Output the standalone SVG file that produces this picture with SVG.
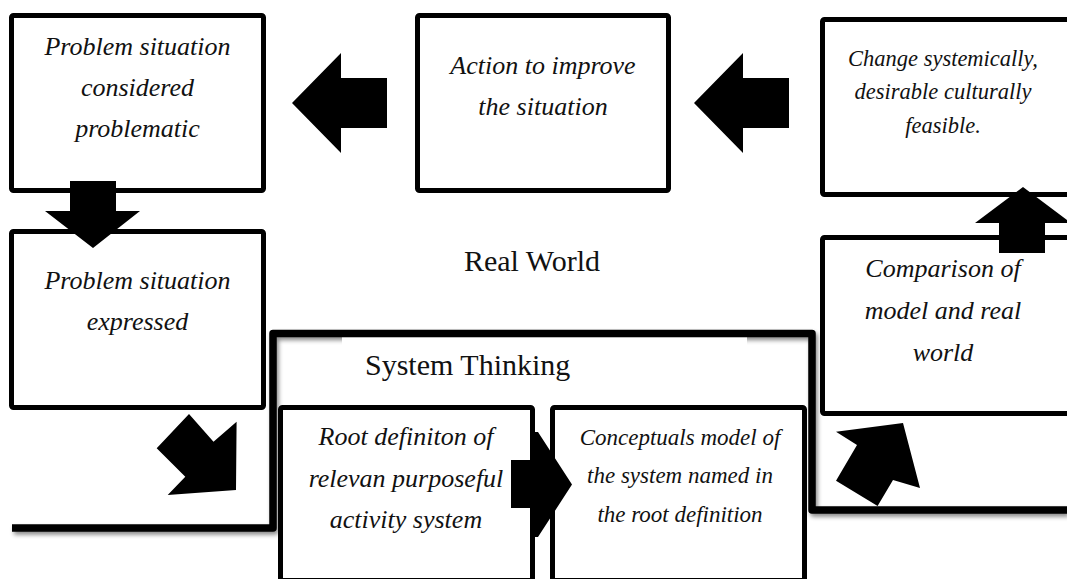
<svg xmlns="http://www.w3.org/2000/svg" width="1067" height="579" viewBox="0 0 1067 579">
  <defs>
    <style>
      .box { fill: #ffffff; stroke: #000000; stroke-width: 5; }
      .arrow { fill: #000000; stroke: none; }
      .frame { fill: none; stroke: #000000; stroke-width: 7.5; stroke-linejoin: round; }
      .it { font-family: "Liberation Serif", "Times New Roman", serif; font-style: italic; fill: #111111; text-anchor: middle; }
      .f26 { font-size: 26px; }
      .f23 { font-size: 23px; }
      .f22 { font-size: 22.5px; }
      .lbl { font-family: "Liberation Serif", "Times New Roman", serif; font-size: 30px; fill: #111111; }
    </style>
    <filter id="shadow" x="-5%" y="-20%" width="110%" height="140%">
      <feDropShadow dx="2" dy="3" stdDeviation="2" flood-color="#000000" flood-opacity="0.45"/>
    </filter>
  </defs>

  <rect x="0" y="0" width="1067" height="579" fill="#ffffff"/>

  <g id="system-thinking-boundary">
    <path class="frame" filter="url(#shadow)" d="M 12 528 H 273 V 333.5 H 812 V 510 H 1067"/>
    <rect x="342" y="337.5" width="405" height="62" fill="#ffffff"/>
    <text class="lbl" x="365" y="375">System Thinking</text>
  </g>

  <g id="real-world-label">
    <text class="lbl" x="532" y="271" text-anchor="middle">Real World</text>
  </g>

  <g id="node-problem-situation">
    <rect class="box" x="11.5" y="15.5" width="252" height="175" rx="2"/>
    <text class="it f26" x="137.5" y="55">Problem situation</text>
    <text class="it f26" x="137.5" y="96">considered</text>
    <text class="it f26" x="137.5" y="137">problematic</text>
  </g>

  <g id="node-problem-expressed">
    <rect class="box" x="11.5" y="231.5" width="252" height="176" rx="2"/>
    <text class="it f26" x="137.5" y="289">Problem situation</text>
    <text class="it f26" x="137.5" y="330">expressed</text>
  </g>

  <g id="node-action">
    <rect class="box" x="417.5" y="15.5" width="251" height="175" rx="2"/>
    <text class="it f26" x="543" y="74">Action to improve</text>
    <text class="it f26" x="543" y="115">the situation</text>
  </g>

  <g id="node-change">
    <rect class="box" x="822.5" y="19.5" width="300" height="175" rx="2"/>
    <text class="it f22" x="943" y="66">Change systemically,</text>
    <text class="it f22" x="943" y="99">desirable culturally</text>
    <text class="it f22" x="943" y="133">feasible.</text>
  </g>

  <g id="node-comparison">
    <rect class="box" x="822.5" y="237.5" width="300" height="176" rx="2"/>
    <text class="it f26" x="943" y="277">Comparison of</text>
    <text class="it f26" x="943" y="319">model and real</text>
    <text class="it f26" x="943" y="361">world</text>
  </g>

  <g id="node-root-definition">
    <rect class="box" x="280.5" y="407.5" width="252" height="173" rx="2"/>
    <text class="it f26" x="406" y="445">Root definiton of</text>
    <text class="it f26" x="406" y="487">relevan purposeful</text>
    <text class="it f26" x="406" y="528">activity system</text>
  </g>

  <g id="node-conceptual-model">
    <rect class="box" x="552.5" y="407.5" width="252" height="173" rx="2"/>
    <text class="it f23" x="680" y="445">Conceptuals model of</text>
    <text class="it f23" x="680" y="483">the system named in</text>
    <text class="it f23" x="680" y="522">the root definition</text>
  </g>

  <g id="connectors">
    <polygon class="arrow" points="70,181 116,181 116,211 140,211 93,248 45,211 70,211"/>
    <polygon class="arrow" points="387,78 387,128 341,128 341,153 292,103 341,53 341,78"/>
    <polygon class="arrow" points="789,78 789,128 743,128 743,153 694,103 743,53 743,78"/>
    <polygon class="arrow" points="999,253 1045,253 1045,223 1071,223 1023,187 975,223 999,223"/>
    <polygon class="arrow" points="189,414 213.5,441.7 236.6,421.7 236,490 167.7,495 185.3,476.7 156.7,448.3"/>
    <polygon class="arrow" points="511,460 534,460 534,432 538,432 572,484.5 538,537 534,537 534,508 511,508"/>
    <polygon class="arrow" points="903,423 920,488 893,480 877.6,506 836,480.7 857,445 836,431.7"/>
  </g>
</svg>
